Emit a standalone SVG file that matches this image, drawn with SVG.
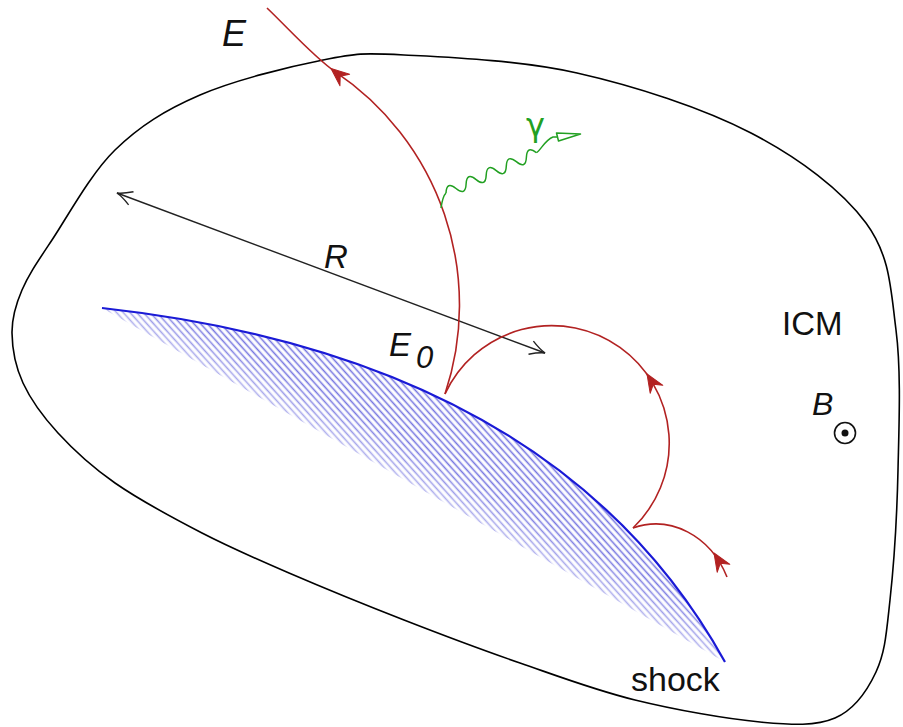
<svg xmlns="http://www.w3.org/2000/svg" width="903" height="727" viewBox="0 0 903 727">
<style>
.blob{fill:none;stroke:#000;stroke-width:1.6}
.traj{fill:none;stroke:#b22222;stroke-width:1.6}
.ah{fill:#b22222;stroke:#b22222;stroke-width:1;stroke-linejoin:round}
.rline{fill:none;stroke:#222;stroke-width:1.4}
.photon{fill:none;stroke:#22a022;stroke-width:1.5}
.lbl{font-family:"Liberation Sans",Arial,sans-serif;fill:#111}
.it{font-style:italic}
</style>
<defs>
<pattern id="hatch" patternUnits="userSpaceOnUse" width="20" height="5" patternTransform="rotate(48)">
<line x1="0" y1="2.5" x2="20" y2="2.5" stroke="#7676e0" stroke-width="1.6"/>
</pattern>
<linearGradient id="fade" gradientUnits="userSpaceOnUse" x1="413" y1="485" x2="430" y2="455">
<stop offset="0" stop-color="#8a8a8a"/>
<stop offset="1" stop-color="#fff"/>
</linearGradient>
<mask id="fadeMask" maskUnits="userSpaceOnUse" x="0" y="0" width="903" height="727">
<rect x="0" y="0" width="903" height="727" fill="url(#fade)"/>
</mask>
<clipPath id="shockClip">
<path d="M102,308 C300,330 580,400 725,662 L102,308 Z"/>
</clipPath>
<path id="redHead" d="M0,0 L-18,-7.5 L-12,0 L-18,7.5 Z"/>
<marker id="openHead" markerUnits="userSpaceOnUse" markerWidth="24" markerHeight="24" refX="0" refY="0" viewBox="-20 -12 24 24" orient="auto-start-reverse" overflow="visible">
<path d="M-15,-7 Q-6,-1.5 0,0 Q-6,1.5 -15,7" fill="none" stroke="#222" stroke-width="1.4"/>
</marker>
</defs>
<rect width="903" height="727" fill="#fff"/>

<g id="icm">
<path class="blob" d="M404,55 C446.3,57.2 519.2,60 577,73 S702.8,108 751,133 S841.8,190.2 866,223 S890.7,288.8 896,330 S899,425 898,470 S893.7,566.3 890,600 S885.2,652.3 876,672 S854.3,709.7 835,718 S793.3,725 760,722 S675,709.8 635,700 S558.5,676.3 520,663 S442.5,635 404,620 S322.7,587.5 289,573 S231,548 202,533 S139,499.7 115,483 S73.3,449.7 58,433 S30.7,399.7 23,383 S12.2,348.5 12,333 S15.3,305.5 22,290 S36.5,263.3 52,240 S90.3,174.2 115,150 S165.3,110 200,95 S289,66.7 323,60 S361.7,52.8 404,55 Z"/>
<text class="lbl" x="782" y="335" font-size="33">ICM</text>
</g>

<g id="field">
<text class="lbl it" x="812" y="415" font-size="32">B</text>
<circle cx="845" cy="433" r="10.5" fill="none" stroke="#111" stroke-width="1.6"/>
<circle cx="845" cy="433" r="3.5" fill="#111"/>
</g>

<g id="shock">
<g clip-path="url(#shockClip)" mask="url(#fadeMask)">
<rect x="90" y="290" width="650" height="390" fill="url(#hatch)"/>
</g>
<path d="M102,308 C300,330 580,400 725,662" fill="none" stroke="#1a1ad6" stroke-width="2.2"/>
<text class="lbl" x="631" y="691" font-size="34">shock</text>
</g>

<g id="labels">
<text class="lbl it" x="222" y="46" font-size="36">E</text>
<text class="lbl it" x="324" y="268" font-size="33">R</text>
<text class="lbl it" x="389" y="356" font-size="33">E</text>
<text class="lbl it" x="416" y="368" font-size="31">0</text>
<text x="526" y="136" font-size="32" fill="#22a022" font-family="'DejaVu Sans',sans-serif">γ</text>
</g>

<g id="connectors">
<line class="rline" x1="117" y1="193" x2="545" y2="353" marker-start="url(#openHead)" marker-end="url(#openHead)"/>
<path class="traj" d="M445,394 A281,281 0 0,0 335,71.6 C314.3,57.5 288,28 267,8"/>
<path class="traj" d="M445,394 A117.5,117.5 0 1,1 633,528"/>
<path class="traj" d="M633,528 C670,515 710,535 727,577"/>
<use href="#redHead" class="ah" transform="translate(331,68.5) rotate(-140)"/>
<use href="#redHead" class="ah" transform="translate(647,374) rotate(-122)"/>
<use href="#redHead" class="ah" transform="translate(714,553) rotate(-122)"/>
<path class="photon" d="M441,208 C442,201 443,196 446,193"/>
<path class="photon" transform="translate(446,193) rotate(-24)" d="M0,0 q5.5,-11 11,0 t11,0 t11,0 t11,0 t11,0 t11,0 t11,0 t11,0 t11,0"/>
<path class="photon" d="M536.4,152.7 C541,150 545,140 553,137 L558,137"/>
<polygon points="556.5,133 580.5,134 558.5,141" fill="#fff" stroke="#22a022" stroke-width="1.5" stroke-linejoin="round"/>
</g>
</svg>
